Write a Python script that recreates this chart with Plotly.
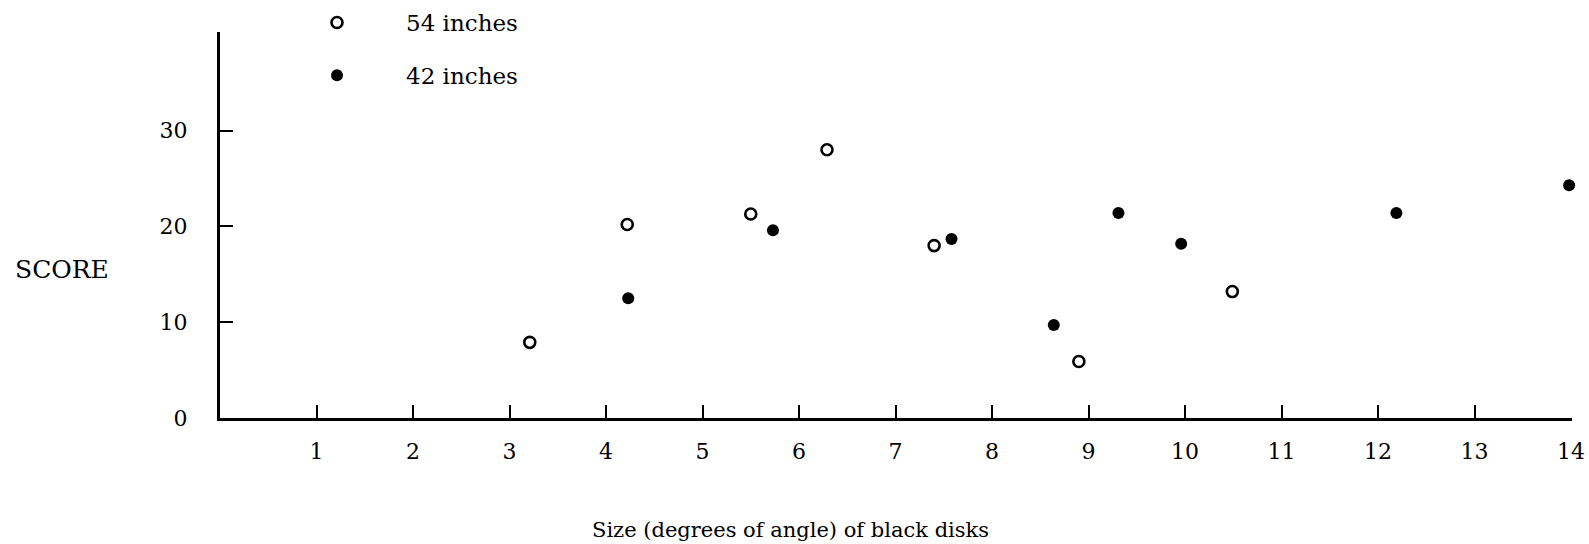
import plotly.graph_objects as go

# Data
x_54 = [3.21, 4.22, 5.50, 6.29, 7.40, 8.90, 10.49]
y_54 = [7.9, 20.2, 21.3, 28.0, 18.0, 5.9, 13.2]

x_42 = [4.23, 5.73, 7.58, 8.64, 9.31, 9.96, 12.19, 13.98]
y_42 = [12.5, 19.6, 18.7, 9.7, 21.4, 18.2, 21.4, 24.3]

x_ticks = list(range(1, 15))
y_ticks = [0, 10, 20, 30]

FONT = "DejaVu Serif"

L, R, T, B = 220, 17, 32, 126
PW = 1589 - L - R
PH = 544 - T - B

fig = go.Figure()
fig.add_trace(go.Scatter(
    x=x_54, y=y_54, mode="markers", name="54 inches", legendgroup="a",
    marker=dict(symbol="circle-open", size=11, color="black", line=dict(width=2.6, color="black")),
    cliponaxis=False,
))
fig.add_trace(go.Scatter(
    x=x_42, y=y_42, mode="markers", name="42 inches", legendgroup="b",
    marker=dict(symbol="circle", size=12, color="black"),
    cliponaxis=False,
))

fig.update_layout(
    width=1589, height=544,
    margin=dict(l=L, r=R, t=T, b=B, pad=0, autoexpand=False),
    paper_bgcolor="white", plot_bgcolor="white",
    font=dict(family=FONT, size=22, color="black"),
    showlegend=True,
    legend=dict(
        x=(268 - L) / PW, xanchor="left",
        y=1.0 + (T - 1) / PH, yanchor="top",
        bgcolor="rgba(0,0,0,0)", borderwidth=0,
        itemwidth=128, tracegroupgap=20,
        font=dict(family=FONT, size=23, color="black"),
    ),
    xaxis=dict(
        range=[0, 14.01], tickvals=x_ticks, ticktext=[str(v) for v in x_ticks],
        showline=True, linewidth=3, linecolor="black", mirror=False,
        ticks="inside", ticklen=13, tickwidth=2, tickcolor="black",
        showgrid=False, zeroline=False, ticklabelstandoff=12,
        ticklabeloverflow="allow",
        tickfont=dict(family=FONT, size=22, color="black"),
    ),
    yaxis=dict(
        range=[0, 40.3], tickvals=y_ticks, ticktext=[str(v) for v in y_ticks],
        showline=True, linewidth=3, linecolor="black",
        ticks="inside", ticklen=13, tickwidth=2, tickcolor="black",
        showgrid=False, zeroline=False, ticklabelstandoff=25,
        ticklabeloverflow="allow",
        tickfont=dict(family=FONT, size=22, color="black"),
    ),
    annotations=[
        dict(text="SCORE", xref="paper", yref="paper",
             x=(13 - L) / PW, xanchor="left",
             y=(418 - 269) / PH, yanchor="middle",
             showarrow=False, font=dict(family=FONT, size=25, color="black")),
        dict(text="Size (degrees of angle) of black disks", xref="paper", yref="paper",
             x=(790 - L) / PW, xanchor="center",
             y=(418 - 530) / PH, yanchor="middle",
             showarrow=False, font=dict(family=FONT, size=21, color="black")),
    ],
)

fig.write_html("out.html")
